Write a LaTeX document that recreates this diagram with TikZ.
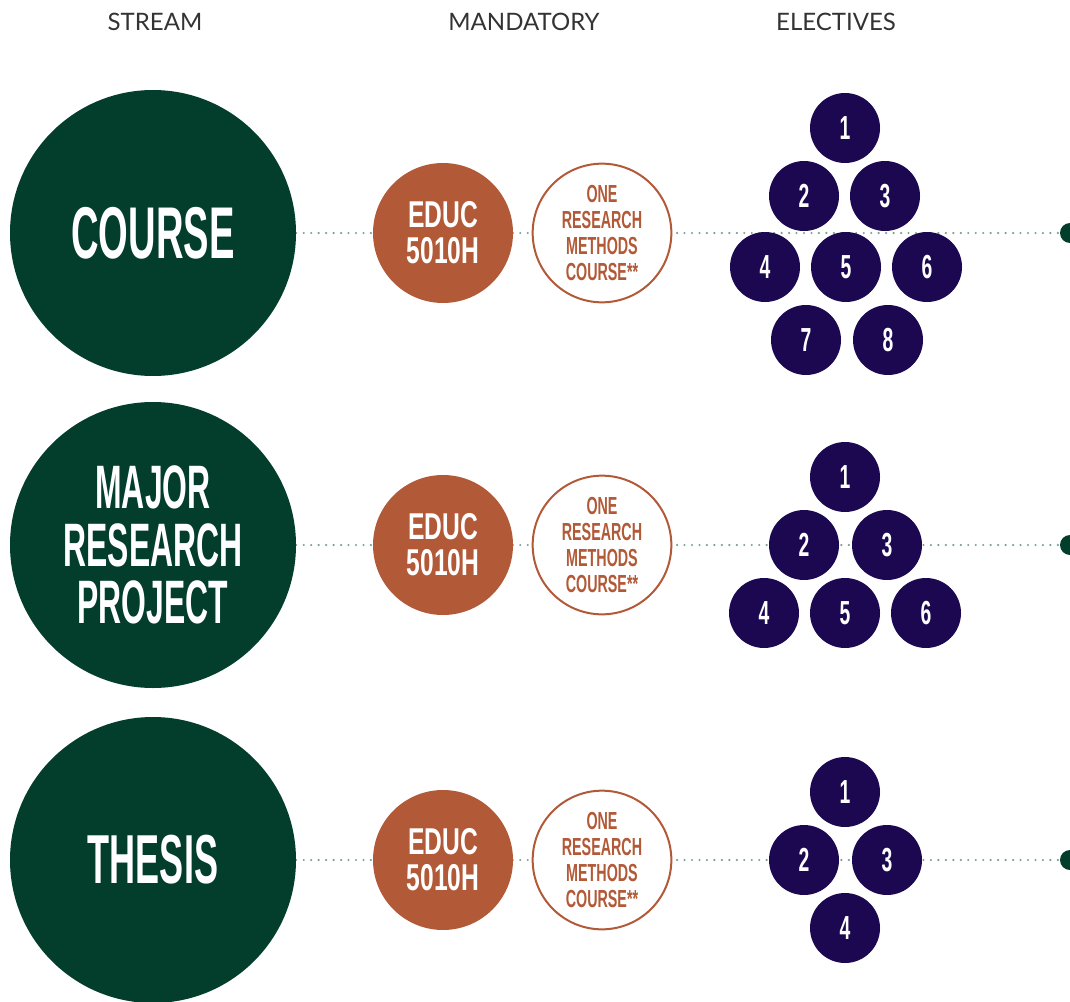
\documentclass[tikz,border=0pt]{standalone}
\usepackage{fontspec}
\setmainfont{Lato}
\newfontfamily\streamfont[FakeStretch=0.52]{Liberation Sans Bold}
\newfontfamily\educfont[FakeStretch=0.66]{Liberation Sans Bold}
\newfontfamily\mandfont[FakeStretch=0.58]{Liberation Sans Bold}
\usetikzlibrary{backgrounds}
\definecolor{streamgreen}{RGB}{3,61,44}
\definecolor{mandbrown}{RGB}{178,89,55}
\definecolor{electpurple}{RGB}{27,8,80}
\definecolor{dotgray}{RGB}{120,160,146}
\definecolor{headgray}{RGB}{51,51,51}

\begin{document}
\begin{tikzpicture}[x=0.75pt,y=0.75pt,yscale=-1,xscale=1,
  head/.style={text=headgray,inner sep=0.75pt,font=\fontsize{18}{20}\selectfont},
  stream/.style={circle,fill=streamgreen,inner sep=0,minimum size=214.5pt,text=white,align=center},
  educ/.style={circle,fill=mandbrown,inner sep=0,minimum size=105pt,text=white,align=center,font=\educfont\fontsize{28}{27}\selectfont},
  methods/.style={circle,draw=mandbrown,line width=1.5pt,fill=white,inner sep=0,minimum size=104pt,text=mandbrown,align=center,font=\mandfont\fontsize{18.5}{19.5}\selectfont},
  elect/.style={circle,fill=electpurple,inner sep=0,minimum size=52.5pt,text=white,font=\mandfont\fontsize{25}{25}\selectfont},
  enddot/.style={circle,fill=streamgreen,inner sep=0,minimum size=15pt},
  dotline/.style={draw=dotgray,line width=1.8pt,line cap=round,dash pattern=on 0pt off 5.6pt}]
\useasboundingbox (0,0) rectangle (1070,1002);
\clip (0,0) rectangle (1070,1002);

% headings
\node[head] (hstream) at (155,22) {STREAM};
\node[head] (hmand) at (524,22) {MANDATORY};
\node[head] (helect) at (836,22) {ELECTIVES};

% course stream
\node[stream,font=\streamfont\fontsize{55}{43}\selectfont] (course) at (153,233) {COURSE};
\node[educ] (educa) at (443,233) {EDUC\\5010H};
\node[methods] (metha) at (602,233) {ONE\\RESEARCH\\METHODS\\COURSE**};
\node[elect] (ca1) at (845,128) {1};
\node[elect] (ca2) at (804,196) {2};
\node[elect] (ca3) at (885,196) {3};
\node[elect] (ca4) at (765,267) {4};
\node[elect] (ca5) at (846,267) {5};
\node[elect] (ca6) at (927,267) {6};
\node[elect] (ca7) at (806,340) {7};
\node[elect] (ca8) at (888,340) {8};
\node[enddot] (courseend) at (1070,233) {};

% major research project stream
\node[stream,font=\streamfont\fontsize{46}{43}\selectfont] (mrp) at (153,545) {MAJOR\\RESEARCH\\PROJECT};
\node[educ] (educb) at (443,545) {EDUC\\5010H};
\node[methods] (methb) at (602,545) {ONE\\RESEARCH\\METHODS\\COURSE**};
\node[elect] (cb1) at (845,477) {1};
\node[elect] (cb2) at (804,545) {2};
\node[elect] (cb3) at (887,545) {3};
\node[elect] (cb4) at (764,613) {4};
\node[elect] (cb5) at (845,613) {5};
\node[elect] (cb6) at (926,613) {6};
\node[enddot] (mrpend) at (1070,545) {};

% thesis stream
\node[stream,font=\streamfont\fontsize{52}{43}\selectfont] (thesis) at (153,860) {THESIS};
\node[educ] (educc) at (443,860) {EDUC\\5010H};
\node[methods] (methc) at (602,860) {ONE\\RESEARCH\\METHODS\\COURSE**};
\node[elect] (cc1) at (845,792) {1};
\node[elect] (cc2) at (804,860) {2};
\node[elect] (cc3) at (887,860) {3};
\node[elect] (cc4) at (845,928) {4};
\node[enddot] (thesisend) at (1070,860) {};

\begin{scope}[on background layer]
\draw[dotline] (course) -- (courseend);
\draw[dotline] (mrp) -- (mrpend);
\draw[dotline] (thesis) -- (thesisend);
\end{scope}
\end{tikzpicture}
\end{document}
